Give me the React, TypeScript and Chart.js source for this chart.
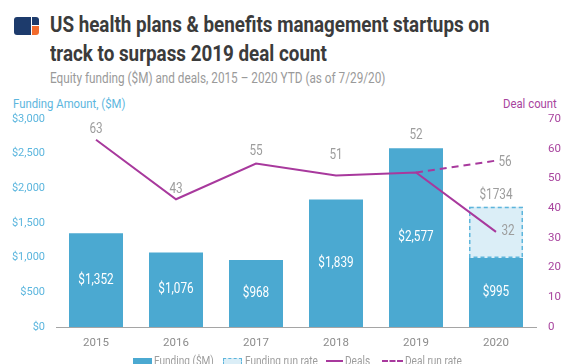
import React, { useEffect, useRef } from "react";
import { Chart, registerables } from "chart.js";

Chart.register(...registerables);

// ---- data ----
const years = ["2015", "2016", "2017", "2018", "2019", "2020"];
const funding = [1352, 1076, 968, 1839, 2577, 995];
const fundingRunRateTotal = [null, null, null, null, null, 1734];
const deals = [63, 43, 55, 51, 52, 32];
const dealRunRate = [null, null, null, null, 52, 56];
const fundingTickStep = 500;
const fundingMax = 3000;
const dealTickStep = 10;
const dealMax = 70;

// ---- styles ----
const BAR = "#4ba9d1";
const RUN_FILL = "#dbeef7";
const RUN_BORDER = "#5db5dc";
const DEAL = "#a8399d";
const LEFT_TICK = "#5cb6de";
const RIGHT_TICK = "#a8449e";
const GRAY = "#9d9d9d";
const FONT = "Roboto";
const SX = 0.84;

const dealLabelOffsets = [
  [0, -10],
  [0, -10],
  [0, -12],
  [0, -20],
  [0, -37],
  [12, 0],
];

function drawText(ctx: CanvasRenderingContext2D, text: string, x: number, y: number, size: number, color: string, align: CanvasTextAlign = "center") {
  ctx.save();
  ctx.translate(x, y);
  ctx.scale(SX, 1);
  ctx.font = `${size}px ${FONT}`;
  ctx.fillStyle = color;
  ctx.textAlign = align;
  ctx.textBaseline = "middle";
  ctx.fillText(text, 0, 0);
  ctx.restore();
}

const runRateBorderPlugin = {
  id: "runRateBorder",
  afterDatasetDraw(chart: any, args: any) {
    if (chart.data.datasets[args.index].id !== "runrate") return;
    const ctx = chart.ctx;
    const meta = chart.getDatasetMeta(args.index);
    meta.data.forEach((el: any, i: number) => {
      if (fundingRunRateTotal[i] == null) return;
      const p = el.getProps(["x", "y", "base", "width"], true);
      ctx.save();
      ctx.strokeStyle = RUN_BORDER;
      ctx.lineWidth = 1.5;
      ctx.setLineDash([4, 3]);
      ctx.strokeRect(p.x - p.width / 2 + 0.75, p.y + 0.75, p.width - 1.5, p.base - p.y - 1.5);
      ctx.restore();
    });
  },
};

const labelsPlugin = {
  id: "valueLabels",
  afterDatasetsDraw(chart: any) {
    const ctx = chart.ctx;
    chart.data.datasets.forEach((ds: any, di: number) => {
      const meta = chart.getDatasetMeta(di);
      meta.data.forEach((el: any, i: number) => {
        const p = el.getProps(["x", "y", "base"], true);
        if (ds.id === "funding") {
          drawText(ctx, "$" + funding[i].toLocaleString("en-US"), p.x, (p.y + p.base) / 2, 14, "#ffffff");
        } else if (ds.id === "runrate") {
          if (fundingRunRateTotal[i] == null) return;
          drawText(ctx, "$" + fundingRunRateTotal[i], p.x, p.y - 11, 14, GRAY);
        } else if (ds.id === "deals") {
          const [dx, dy] = dealLabelOffsets[i];
          drawText(ctx, String(deals[i]), p.x + dx, p.y + dy, 14, GRAY);
        } else if (ds.id === "dealrun") {
          if (i !== dealRunRate.length - 1 || dealRunRate[i] == null) return;
          drawText(ctx, String(dealRunRate[i]), p.x + 9, p.y + 2, 14, GRAY);
        }
      });
    });
  },
};

export default function App() {
  const canvasRef = useRef<HTMLCanvasElement | null>(null);

  useEffect(() => {
    const canvas = canvasRef.current;
    if (!canvas) return;
    Chart.defaults.font.family = FONT;
    const chart = new Chart(canvas, {
      type: "bar",
      data: {
        labels: years,
        datasets: [
          {
            id: "deals",
            type: "line",
            label: "Deals",
            data: deals,
            yAxisID: "y1",
            borderColor: DEAL,
            backgroundColor: DEAL,
            borderWidth: 2,
            pointRadius: 0,
            tension: 0,
            order: 0,
          } as any,
          {
            id: "dealrun",
            type: "line",
            label: "Deal run rate",
            data: dealRunRate,
            yAxisID: "y1",
            borderColor: DEAL,
            backgroundColor: DEAL,
            borderWidth: 2,
            borderDash: [7, 5],
            pointRadius: 0,
            tension: 0,
            order: 0,
          } as any,
          {
            id: "funding",
            type: "bar",
            label: "Funding ($M)",
            data: funding,
            yAxisID: "y",
            backgroundColor: BAR,
            borderWidth: 0,
            grouped: false,
            barPercentage: 0.675,
            categoryPercentage: 1,
            order: 1,
          } as any,
          {
            id: "runrate",
            type: "bar",
            label: "Funding run rate",
            data: fundingRunRateTotal.map((t, i) => (t == null ? null : [funding[i], t])),
            yAxisID: "y",
            backgroundColor: RUN_FILL,
            borderWidth: 0,
            grouped: false,
            barPercentage: 0.675,
            categoryPercentage: 1,
            order: 2,
          } as any,
        ],
      },
      options: {
        animation: false,
        responsive: false,
        layout: { padding: { top: 29, left: 0, right: 0, bottom: 0 } },
        plugins: {
          legend: { display: false },
          tooltip: { enabled: false },
        },
        scales: {
          x: {
            grid: { display: false, drawTicks: false },
            border: { display: true, color: "#a5a5a5", width: 1 },
            ticks: { color: "#8c8c8c", font: { family: FONT, size: 11.5 }, padding: 9 },
            afterFit: (s: any) => {
              s.height = 37;
            },
          },
          y: {
            position: "left",
            min: 0,
            max: fundingMax,
            grid: { display: false, drawTicks: false },
            border: { display: false },
            ticks: {
              stepSize: fundingTickStep,
              color: LEFT_TICK,
              font: { family: FONT, size: 11 },
              padding: 11,
              callback: (v: any) => "$" + Number(v).toLocaleString("en-US"),
            },
            afterFit: (s: any) => {
              s.width = 56;
            },
          },
          y1: {
            position: "right",
            min: 0,
            max: dealMax,
            grid: { display: false, drawTicks: false },
            border: { display: false },
            ticks: {
              stepSize: dealTickStep,
              color: RIGHT_TICK,
              font: { family: FONT, size: 11.5 },
              padding: 12,
            },
            afterFit: (s: any) => {
              s.width = 36;
            },
          },
        },
      } as any,
      plugins: [runRateBorderPlugin, labelsPlugin],
    });
    return () => chart.destroy();
  }, []);

  const cond = (extra: React.CSSProperties = {}, sx: number = SX): React.CSSProperties => ({
    position: "absolute",
    whiteSpace: "nowrap",
    transform: `scaleX(${sx})`,
    transformOrigin: "left top",
    fontFamily: FONT,
    ...extra,
  });

  return (
    <div
      style={{
        position: "fixed",
        left: 0,
        top: 0,
        width: 572,
        height: 364,
        overflow: "hidden",
        background: "#ffffff",
      }}
    >
      {/* logo */}
      <div style={{ position: "absolute", left: 14, top: 17, width: 17, height: 18, background: "#1d3b6c", borderRadius: "3px 0 0 3px" }} />
      <div style={{ position: "absolute", left: 32, top: 17, width: 7, height: 8, background: "#1d3b6c", borderRadius: "0 3px 0 0" }} />
      <div style={{ position: "absolute", left: 32, top: 26, width: 7, height: 9, background: "#f26b2d", borderRadius: "0 0 3px 0" }} />

      {/* title */}
      <div style={cond({ left: 50, top: 10, fontSize: 22, lineHeight: "29px", fontWeight: 700, color: "#3b3b3b" }, 0.855)}>
        US health plans &amp; benefits management startups on
        <br />
        track to surpass 2019 deal count
      </div>
      <div style={cond({ left: 50, top: 70, fontSize: 14, lineHeight: "16px", color: "#9a9a9a" })}>
        Equity funding ($M) and deals, 2015 – 2020 YTD (as of 7/29/20)
      </div>

      {/* axis titles */}
      <div style={cond({ left: 13, top: 94.5, fontSize: 13.5, lineHeight: "16px", color: LEFT_TICK })}>Funding Amount, ($M)</div>
      <div style={cond({ left: 503, top: 94.5, fontSize: 13.5, lineHeight: "16px", color: RIGHT_TICK })}>Deal count</div>

      <canvas
        ref={canvasRef}
        width={572}
        height={274}
        style={{ position: "absolute", left: 0, top: 90, width: 572, height: 274 }}
      />

      {/* legend */}
      <div style={{ position: "absolute", left: 133, top: 358, width: 19, height: 9, background: BAR }} />
      <div style={cond({ left: 154, top: 354, fontSize: 12, lineHeight: "14px", color: GRAY })}>Funding ($M)</div>
      <div style={{ position: "absolute", left: 223, top: 358, width: 17, height: 8, background: RUN_FILL, border: `1.5px dashed ${RUN_BORDER}` }} />
      <div style={cond({ left: 245, top: 354, fontSize: 12, lineHeight: "14px", color: GRAY })}>Funding run rate</div>
      <div style={{ position: "absolute", left: 326, top: 360, width: 17, height: 2, background: DEAL }} />
      <div style={cond({ left: 345, top: 354, fontSize: 12, lineHeight: "14px", color: GRAY })}>Deals</div>
      <div style={{ position: "absolute", left: 382, top: 360, width: 21, height: 0, borderTop: `2px dashed ${DEAL}` }} />
      <div style={cond({ left: 405, top: 354, fontSize: 12, lineHeight: "14px", color: GRAY })}>Deal run rate</div>
    </div>
  );
}
